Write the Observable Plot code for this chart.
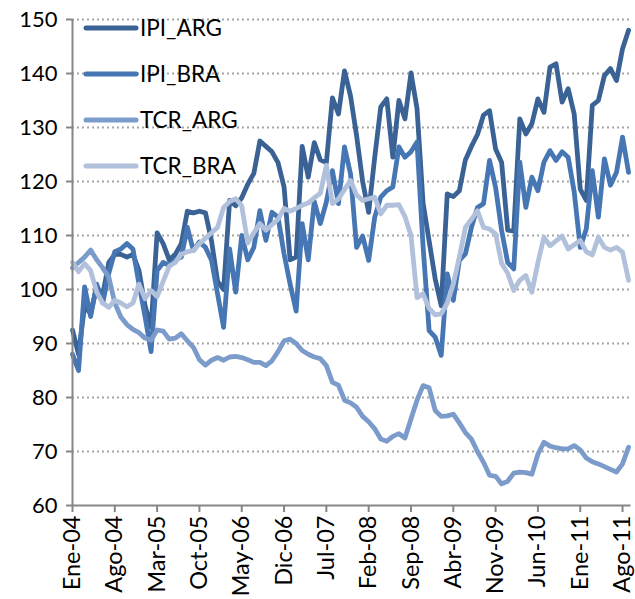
<!DOCTYPE html>
<html><head><meta charset="utf-8">
<script src="https://cdn.jsdelivr.net/npm/d3@7"></script>
<script src="https://cdn.jsdelivr.net/npm/@observablehq/plot@0.6"></script>
<style>
body{margin:0;background:#fff;}
#wrap{position:relative;width:635px;height:599px;font-family:Lato,"Open Sans",sans-serif;}
#legend{position:absolute;left:0;top:0;pointer-events:none;}
</style></head><body><div id="wrap"></div>
<script>
const tickLabels = ["Ene-04","Ago-04","Mar-05","Oct-05","May-06","Dic-06","Jul-07","Feb-08","Sep-08","Abr-09","Nov-09","Jun-10","Ene-11","Ago-11"];
const seriesNames = ["IPI_ARG","IPI_BRA","TCR_ARG","TCR_BRA"];
const seriesColors = ["#3a6295","#4676b3","#7b9bcb","#b2c1db"];
const yTicks = [60,70,80,90,100,110,120,130,140,150];

const IPI_ARG = [92.5,88,97,95.5,100.5,99,105,106.5,106.5,106,106.5,103.5,97,93,110.5,108.5,105.5,106.5,108.5,114.5,114.2,114.5,114.2,109,101.5,100,116.5,115.5,117,119.5,121.5,127.5,126.5,125.5,123.5,119,105.5,106,126.5,120.8,127.2,124,123.5,135.5,132.5,140.5,135.8,128.5,120,114.3,124.5,133.8,135.3,124.5,135,131.6,140.1,133.5,116,109,102,97,117.7,117.2,118.3,124,126.5,128.7,132.3,133.1,126,123.5,111,110.8,131.6,128.8,130.7,135.3,132.8,141.2,141.8,134.7,137.2,132.5,118.6,116.5,134.1,135,139.6,140.9,138.7,144.6,148];
const IPI_BRA = [88,85,100.5,95,101,97.5,103,107,107.5,108.5,107.5,101,95,88.5,103.5,105,104.5,105.5,106,111.5,107.2,108.8,107.8,105.4,99.2,93,107.5,99.5,110,105.5,107.8,114.6,109.1,114.3,113.4,106.6,101,96,112.2,105.5,116.3,112.2,116.2,122,115.9,126.4,121.4,107.8,109.9,105.4,113.4,117.1,118.3,119,126.4,124.5,125.5,127.3,108,92.4,91.2,87.8,102.9,98,105.4,106.6,111.5,115.2,115.9,123.9,118.9,110.9,105,103.8,123.6,115.2,120.8,118.3,123.6,125.7,123.9,125.5,124.5,118.1,107.8,111.2,122,113.4,124.2,119.3,121.7,128.2,121.7];
const TCR_ARG = [104,105,106,107.3,105.5,104,102.3,97.5,94.9,93.5,92.6,92,91,90.6,92.5,92.3,90.8,91,91.8,90.5,89.3,87,86,86.9,87.4,86.9,87.5,87.6,87.4,87,86.5,86.5,85.9,86.8,88.5,90.5,90.8,90,88.7,88,87.5,87.2,85.9,82.8,82.3,79.5,79,78.2,76.5,75.5,74.2,72.3,71.9,72.8,73.3,72.5,76,79.5,82.2,81.8,77.6,76.5,76.6,76.9,75.3,73.5,72.3,70,68,65.6,65.4,64,64.5,66,66.2,66.1,65.8,69.5,71.7,71,70.7,70.5,70.5,71.1,70.3,68.8,68.1,67.7,67.2,66.7,66.2,67.7,70.8];
const TCR_BRA = [105,103.3,104.8,103.5,99.5,97.5,96.7,98,97.5,96.8,97.5,101,98.3,99.8,98.7,101.5,104.3,105,106.5,107,107.2,108.5,109.5,110.5,111.5,115.2,116.3,116.8,115.5,108.6,110.5,112.2,111,112,113,115,114.5,115,115.6,116,117,117.8,123,115.9,116.8,118.5,120.2,117.5,116.5,116.8,117.1,114,115.6,115.6,115.7,113.5,110,98.5,99.2,96.5,95.3,95.5,97.5,101,106,111.5,113,114.6,111.5,111.2,110.3,104.8,103,99.8,101.7,102.6,99.5,105,109.7,108.1,109,109.9,107.5,108.3,109.1,107,106.4,109.7,107.8,107.3,107.8,106.9,101.7];

const allSeries = [IPI_ARG, IPI_BRA, TCR_ARG, TCR_BRA];
const data = seriesNames.flatMap((name, k) => allSeries[k].map((v, i) => ({series: name, i, v})));
const tickIdx = tickLabels.map((_, k) => k * 7);

const font = "Lato, 'Open Sans', sans-serif";
const chart = Plot.plot({
  width: 635, height: 599,
  marginLeft: 72, marginTop: 19, marginBottom: 94, marginRight: 4.5,
  style: {fontFamily: font, fontSize: "22px", color: "#000", background: "#fff"},
  x: {domain: [0, 92.4]},
  y: {domain: [60, 150]},
  color: {domain: seriesNames, range: seriesColors},
  marks: [
    Plot.gridY(yTicks.slice(1), {stroke: "#a6a6a6", strokeOpacity: 1, strokeWidth: 1.8, strokeDasharray: "2,3"}),
    Plot.lineY(data, {x: "i", y: "v", z: "series", stroke: "series", strokeWidth: 4.8, strokeLinejoin: "round", strokeLinecap: "round"}),
    Plot.ruleX([0], {stroke: "#868686", strokeWidth: 2}),
    Plot.ruleY([60], {stroke: "#868686", strokeWidth: 2}),
    Plot.axisY(yTicks, {tickSize: 6, tickPadding: 9, stroke: "#868686", strokeWidth: 2, fill: "#000", fontSize: 22, label: null}),
    Plot.axisX(tickIdx, {tickSize: 7, tickPadding: 3, tickRotate: -90, stroke: "#868686", strokeWidth: 2, fill: "#000", fontSize: 23.5, label: null, tickFormat: d => tickLabels[d / 7]})
  ]
});
const wrap = document.getElementById("wrap");
wrap.appendChild(chart);

// legend overlay
const ns = "http://www.w3.org/2000/svg";
const lg = document.createElementNS(ns, "svg");
lg.setAttribute("id", "legend");
lg.setAttribute("width", 635); lg.setAttribute("height", 599);
seriesNames.forEach((name, k) => {
  const cy = 28 + k * 46;
  const ln = document.createElementNS(ns, "line");
  ln.setAttribute("x1", 86); ln.setAttribute("x2", 136);
  ln.setAttribute("y1", cy); ln.setAttribute("y2", cy);
  ln.setAttribute("stroke", seriesColors[k]); ln.setAttribute("stroke-width", 5);
  ln.setAttribute("stroke-linecap", "round");
  lg.appendChild(ln);
  const tx = document.createElementNS(ns, "text");
  tx.setAttribute("x", 140); tx.setAttribute("y", cy);
  tx.setAttribute("dy", "0.36em");
  tx.setAttribute("font-family", font); tx.setAttribute("font-size", 22.5);
  tx.setAttribute("fill", "#000");
  tx.textContent = name;
  lg.appendChild(tx);
});
wrap.appendChild(lg);
</script></body></html>
